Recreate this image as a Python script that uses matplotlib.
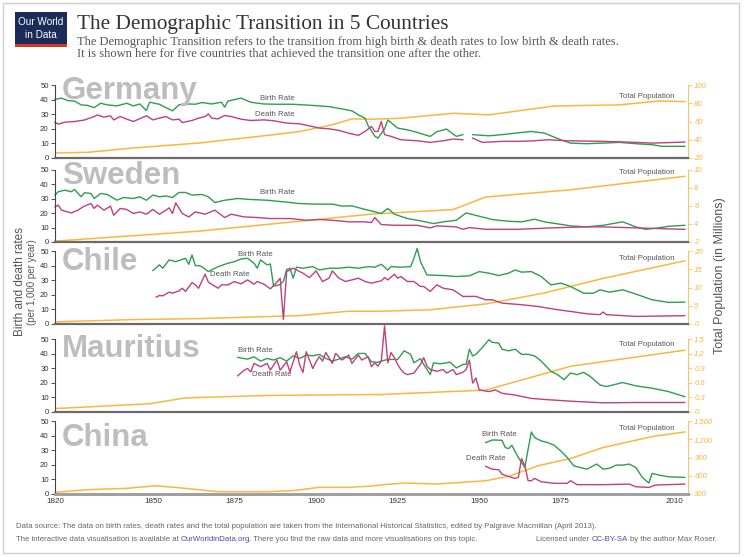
import matplotlib
matplotlib.use('Agg')
import matplotlib.pyplot as plt
import numpy as np
from matplotlib.patches import Rectangle

plt.rcParams['font.family'] = ['Liberation Sans', 'DejaVu Sans']

nan = np.nan

# ---------------- data ----------------
years_xticks = [1820, 1850, 1875, 1900, 1925, 1950, 1975, 2010]

# Germany
de_birth_years = [1820, 1822, 1824, 1826, 1828, 1830, 1832, 1834, 1836, 1839, 1842, 1844, 1846, 1848, 1849, 1852, 1854, 1856, 1858, 1861, 1863, 1865, 1868, 1871, 1872, 1873, 1877, 1880, 1884, 1888, 1893, 1899, 1904, 1908, 1911, 1913, 1915, 1916, 1918, 1919, 1921, 1922, 1925, 1928, 1931, 1935, 1937, 1940, 1943, 1945, 1946, 1948, 1953, 1957, 1961, 1966, 1970, 1975, 1978, 1983, 1988, 1993, 1998, 2003, 2006, 2013]
de_birth = [40.2, 41, 39.3, 39, 36.4, 36, 34.5, 37.5, 36.4, 35.7, 37.5, 35.7, 37, 32.5, 38.2, 36.8, 34.5, 32.3, 36.4, 37, 36.8, 38, 37, 38.2, 34.8, 39, 41, 38.2, 37, 36.8, 36.8, 36, 35.2, 33.6, 32.3, 29.5, 27.3, 22, 15, 13.6, 20, 26, 20.5, 19.3, 17.5, 14.8, 18, 19.8, 14.8, 16, nan, 16, 15.2, 16, 17, 18.2, 17, 12.5, 10.2, 9.8, 10.2, 10.7, 9.8, 9.1, 8, 8]
de_death_years = [1820, 1821, 1823, 1826, 1829, 1832, 1833, 1835, 1837, 1838, 1840, 1842, 1844, 1848, 1850, 1852, 1854, 1856, 1858, 1859, 1862, 1864, 1866, 1867, 1868, 1870, 1872, 1874, 1877, 1880, 1884, 1887, 1891, 1895, 1898, 1901, 1904, 1907, 1910, 1913, 1915, 1917, 1918, 1919, 1920, 1921, 1923, 1926, 1931, 1935, 1939, 1942, 1945, 1946, 1948, 1951, 1957, 1962, 1967, 1971, 1977, 1988, 1998, 2003, 2013]
de_death = [24.5, 23.2, 24.5, 25, 26, 28.4, 29.5, 28, 28.9, 26.1, 28.4, 26.6, 25, 28.9, 26.1, 27.3, 28.4, 26.1, 26.6, 24.3, 25.7, 27.3, 28.4, 30.2, 27.3, 26.8, 29.1, 28.4, 26.6, 25.7, 26.1, 25.5, 23.9, 23.4, 22, 20.5, 20, 18.9, 17, 15.5, 18.2, 21.6, 18.2, 18.2, 25, 16, 14.8, 12.5, 11.8, 10.7, 11.8, 13, 12.5, nan, 13.6, 10.7, 11.4, 11.4, 11.8, 12.5, 11.8, 11.4, 10.7, 10.2, 10.9]
de_pop_years = [1820, 1830, 1844, 1864, 1885, 1895, 1905, 1911, 1917, 1926, 1942, 1953, 1973, 1993, 2005, 2013]
de_pop = [25.5, 26.2, 31, 36.4, 44.7, 49, 56.4, 62.9, 62.5, 63.6, 69, 67.3, 77, 78.2, 82.5, 81.8]

# Sweden
se_birth_years = [1820, 1821, 1823, 1825, 1826, 1828, 1829, 1831, 1832, 1834, 1836, 1839, 1841, 1844, 1846, 1848, 1850, 1852, 1854, 1856, 1858, 1860, 1862, 1865, 1867, 1869, 1872, 1876, 1880, 1885, 1890, 1895, 1900, 1905, 1908, 1911, 1915, 1918, 1920, 1922, 1924, 1928, 1932, 1936, 1939, 1943, 1946, 1950, 1954, 1959, 1963, 1967, 1970, 1978, 1983, 1988, 1994, 1998, 2001, 2005, 2008, 2013]
se_birth = [32.6, 34.9, 36, 34.9, 36.5, 31.4, 34.2, 33.7, 30.2, 33.7, 33, 29, 30.9, 30.2, 31.4, 29, 32.6, 31.4, 32, 30.9, 34.4, 34.4, 32.6, 33, 31.4, 27.4, 29, 30.2, 29.5, 29, 27.9, 26.7, 26.3, 26.3, 24.9, 25.1, 22.6, 21, 19.8, 23.3, 19.3, 16.3, 14.7, 12.8, 14, 15.1, 20.2, 17.9, 15.6, 14.4, 14, 15.8, 14, 11.2, 10.5, 11.6, 14, 10.5, 8.8, 9.8, 10.9, 11.6]
se_death_years = [1820, 1821, 1822, 1825, 1827, 1829, 1831, 1832, 1833, 1835, 1837, 1838, 1840, 1842, 1844, 1846, 1848, 1850, 1852, 1854, 1855, 1856, 1857, 1859, 1861, 1863, 1866, 1869, 1872, 1874, 1878, 1882, 1886, 1892, 1897, 1901, 1905, 1910, 1915, 1917, 1918, 1920, 1924, 1931, 1935, 1937, 1943, 1945, 1947, 1952, 1962, 1972, 1983, 1988, 1998, 2013]
se_death = [24.4, 25.6, 22.1, 20.2, 22.1, 24.9, 26.7, 23.3, 25.6, 22.1, 24.9, 18.6, 23.3, 22.6, 19.8, 20.9, 19.3, 22.6, 19.3, 22.1, 23.7, 19.8, 27.2, 19.8, 17.4, 20.9, 19.3, 22.1, 17, 19.3, 17.4, 17, 16.3, 16.3, 15.1, 15.6, 15.1, 14, 14, 13.5, 17, 12.1, 11.6, 11.6, 9.8, 11.2, 10.5, 8.8, 10, 8.8, 8.8, 9.8, 10.5, 10.5, 9.8, 8.8]
se_pop_years = [1820, 1864, 1917, 1942, 1952, 1978, 2013]
se_pop = [2.1, 3.2, 5.1, 5.6, 7.0, 7.8, 9.3]

# Chile
cl_birth_years = [1850, 1852, 1853, 1855, 1857, 1860, 1861, 1862, 1863, 1864, 1865, 1867, 1870, 1873, 1875, 1877, 1879, 1881, 1882, 1883, 1885, 1886, 1887, 1889, 1890, 1891, 1892, 1893, 1894, 1896, 1899, 1901, 1904, 1907, 1910, 1913, 1916, 1918, 1920, 1922, 1923, 1926, 1929, 1930, 1931, 1932, 1934, 1939, 1943, 1947, 1950, 1953, 1956, 1959, 1961, 1963, 1966, 1969, 1972, 1975, 1978, 1982, 1985, 1987, 1990, 1994, 1998, 2003, 2008, 2013]
cl_birth = [36.6, 40.5, 38.2, 43.9, 42.7, 45, 40.9, 47.3, 40, 40, 39.3, 35.9, 39.3, 41.6, 42.7, 44.5, 45, 41.6, 38.2, 43.9, 40.5, 41.1, 25.9, 27, 29.3, 37.3, 38.2, 31.4, 38.9, 38.2, 39.3, 37, 38.2, 38.2, 38.9, 38.2, 39.3, 38.9, 40.9, 37, 39.3, 38.9, 39.3, 45, 51.8, 42.7, 33.6, 33.2, 32.5, 33, 35.9, 34.8, 33.2, 34.8, 37, 35.5, 35.9, 32.5, 26.8, 28, 25.7, 21.1, 21.1, 23.4, 21.8, 23.4, 20.5, 16.6, 14.8, 15]
cl_death_years = [1851, 1852, 1853, 1855, 1856, 1858, 1859, 1860, 1862, 1863, 1864, 1866, 1867, 1870, 1871, 1873, 1875, 1877, 1879, 1881, 1882, 1884, 1886, 1888, 1889, 1890, 1891, 1893, 1895, 1896, 1898, 1900, 1902, 1904, 1905, 1907, 1909, 1911, 1913, 1915, 1917, 1919, 1920, 1921, 1922, 1924, 1925, 1926, 1928, 1930, 1932, 1933, 1935, 1937, 1939, 1942, 1945, 1949, 1952, 1954, 1957, 1963, 1968, 1974, 1978, 1983, 1987, 1988, 1989, 1998, 2013]
cl_death = [18.4, 19.5, 19.3, 21.8, 21.1, 22.7, 24.5, 22.3, 28.4, 26.8, 24.5, 34.1, 28.6, 24.5, 26.8, 26.8, 29.1, 27.5, 30.2, 27.3, 29.1, 27.3, 24.1, 28.6, 31.4, 3, 35.9, 38.2, 35.9, 34.8, 31.8, 36.4, 29.1, 31.4, 36.4, 31.4, 29.1, 30.2, 31.4, 29.1, 28, 29.1, 29.5, 31.8, 30.2, 34.1, 31.4, 32.5, 29.1, 29.1, 25.7, 25.7, 22.3, 26.8, 24.5, 23.4, 18.9, 18.9, 16.6, 16.6, 14.3, 13.2, 12, 9.8, 8.6, 7, 6.4, 8.2, 6.4, 5.2, 5.7]
cl_pop_years = [1820, 1844, 1865, 1895, 1910, 1920, 1935, 1952, 1970, 1988, 2013]
cl_pop = [0.6, 1.2, 1.5, 2.3, 3.5, 3.5, 3.9, 5.5, 8.5, 12.5, 17.3]

# Mauritius
mu_birth_years = [1876, 1879, 1881, 1883, 1885, 1887, 1889, 1891, 1893, 1895, 1897, 1899, 1901, 1903, 1905, 1907, 1909, 1911, 1913, 1915, 1917, 1919, 1920, 1922, 1925, 1927, 1929, 1930, 1932, 1933, 1935, 1936, 1938, 1940, 1941, 1943, 1945, 1946, 1947, 1948, 1949, 1951, 1953, 1954, 1956, 1957, 1959, 1961, 1963, 1965, 1967, 1969, 1972, 1974, 1976, 1978, 1980, 1982, 1984, 1987, 1989, 1994, 1998, 2003, 2008, 2013]
mu_birth = [37.4, 36.2, 37.8, 34.9, 36.7, 35.6, 37.2, 34.9, 38.5, 36.7, 39, 38.5, 39.4, 36.7, 34.9, 36.2, 37.8, 36.2, 40.1, 40.1, 34.4, 34, 34.9, 36, 36, 41.9, 39.5, 33.7, 36.5, 32.6, 25.6, 33.7, 33, 33.7, 34.2, 30.2, 32.6, 32.6, 43, 38.4, 39.5, 44.2, 49.5, 47.7, 47.2, 43, 41.9, 43, 39.5, 39.5, 38.4, 34.9, 27.9, 25.6, 22.1, 26.7, 25.6, 27.2, 24.4, 18.6, 17.4, 20.2, 17.9, 16.3, 14, 10.5]
mu_death_years = [1876, 1878, 1879, 1880, 1881, 1883, 1885, 1886, 1888, 1889, 1891, 1892, 1894, 1895, 1896, 1897, 1899, 1900, 1901, 1902, 1903, 1905, 1906, 1908, 1910, 1911, 1913, 1914, 1916, 1917, 1918, 1919, 1920, 1921, 1922, 1923, 1924, 1925, 1926, 1927, 1928, 1930, 1932, 1933, 1934, 1935, 1937, 1939, 1940, 1942, 1943, 1945, 1946, 1947, 1948, 1949, 1950, 1953, 1955, 1957, 1961, 1966, 1970, 1978, 1988, 1998, 2013]
mu_death = [24.8, 28.7, 29.8, 27.5, 33.3, 31, 33.3, 28.7, 35.6, 28.7, 34.4, 27.5, 41.3, 32.1, 27.1, 41.3, 29.8, 34.4, 37.8, 34.9, 40.8, 33.3, 40.1, 35.6, 39, 33.3, 39, 35.6, 37.8, 31, 33.7, 31.4, 34.9, 59, 33.7, 40.7, 37.2, 32.6, 29.1, 26.7, 25.6, 26.7, 32.6, 37.2, 31.4, 29.1, 27.9, 29.1, 26.7, 29.1, 25.6, 27.2, 29.1, 35.6, 19.8, 23.3, 15.1, 14, 15.1, 12.8, 11.6, 9.3, 8.6, 7.4, 6.3, 6.5, 6.5]
mu_pop_years = [1820, 1849, 1860, 1885, 1920, 1952, 1978, 2013]
mu_pop = [0.07, 0.17, 0.29, 0.34, 0.36, 0.45, 0.94, 1.27]

# China
cn_birth_years = [1952, 1954, 1957, 1958, 1959, 1960, 1962, 1964, 1965, 1966, 1967, 1969, 1971, 1973, 1975, 1977, 1979, 1983, 1986, 1988, 1990, 1992, 1994, 1996, 1998, 2000, 2002, 2003, 2005, 2008, 2013]
cn_birth = [35.2, 37, 36.8, 31.8, 31.1, 33.4, 25, 18.2, 30.7, 42.5, 38.6, 36.4, 35.2, 33.4, 29.5, 25, 19.3, 17, 20.5, 17, 17.7, 19.8, 19.8, 20.5, 18.2, 11.4, 7.5, 14.1, 13, 11.8, 11.4]
cn_death_years = [1952, 1954, 1956, 1957, 1959, 1961, 1962, 1963, 1964, 1965, 1966, 1967, 1969, 1973, 1977, 1978, 1980, 1988, 1996, 1998, 2002, 2004, 2013]
cn_death = [18.9, 17, 16.6, 13.6, 12, 10.7, 11.4, 24.3, 19.3, 9.1, 9.1, 10.7, 8.4, 7.3, 7.3, 9.1, 6.4, 6.4, 6.8, 5, 4.5, 6.1, 6.8]
cn_pop_years = [1820, 1830, 1842, 1851, 1860, 1870, 1885, 1893, 1901, 1910, 1917, 1921, 1927, 1937, 1952, 1959, 1968, 1978, 1988, 2003, 2013]
cn_pop = [327, 371, 393, 436, 393, 338, 338, 355, 409, 409, 430, 455, 480, 464, 518, 589, 764, 884, 1064, 1244, 1320]

countries = ['Germany', 'Sweden', 'Chile', 'Mauritius', 'China']
pop_tick_values = [[20, 40, 60, 80, 100], [2, 4, 6, 8, 10], [0, 5, 10, 15, 20],
                   [0, 0.3, 0.6, 0.9, 1.2, 1.5], [300, 600, 900, 1200, 1500]]
pop_tick_labels = [['20', '40', '60', '80', '100'], ['2', '4', '6', '8', '10'],
                   ['0', '5', '10', '15', '20'], ['0', '0.3', '0.6', '0.9', '1.2', '1.5'],
                   ['300', '600', '900', '1,200', '1,500']]
series = [
    (de_birth_years, de_birth, de_death_years, de_death, de_pop_years, de_pop),
    (se_birth_years, se_birth, se_death_years, se_death, se_pop_years, se_pop),
    (cl_birth_years, cl_birth, cl_death_years, cl_death, cl_pop_years, cl_pop),
    (mu_birth_years, mu_birth, mu_death_years, mu_death, mu_pop_years, mu_pop),
    (cn_birth_years, cn_birth, cn_death_years, cn_death, cn_pop_years, cn_pop),
]

# ---------------- layout ----------------
W, H = 744, 557
fig = plt.figure(figsize=(W / 100, H / 100), dpi=100)
fig.patch.set_facecolor('white')


def fx(x):
    return x / W


def fy(y):
    return 1 - y / H


BIRTH = '#2f9d4e'
DEATH = '#c0407a'
POP = '#f9b73f'
POP_AX = '#f8c46a'

panel_px = [(85, 158), (170, 242), (251, 324), (339, 412), (421, 494)]
name_baseline = [99, 184, 270, 357, 446]
X0, X1 = 55, 688

for i, (name, (top, bot)) in enumerate(zip(countries, panel_px)):
    by, bv, dy, dv, py, pv = series[i]
    ax = fig.add_axes([fx(X0), fy(bot), (X1 - X0) / W, (bot - top) / H])
    ax2 = ax.twinx()
    ax.set_zorder(ax2.get_zorder() + 1)
    ax.patch.set_visible(False)

    ax.set_xlim(1820, 2014)
    ax.set_ylim(0, 50)
    ax2.set_ylim(pop_tick_values[i][0], pop_tick_values[i][-1])

    ax2.plot(py, pv, color=POP, lw=1.1)
    ax.plot(by, bv, color=BIRTH, lw=1.0, clip_on=False)
    ax.plot(dy, dv, color=DEATH, lw=1.0, clip_on=False)

    for s in ['top', 'right']:
        ax.spines[s].set_visible(False)
    ax.spines['left'].set_color('#444')
    ax.spines['left'].set_linewidth(0.8)
    last = (i == len(countries) - 1)
    ax.spines['bottom'].set_color('#a0a0a0' if last else '#6a6a6a')
    ax.spines['bottom'].set_linewidth(2.2 if last else 1.6)
    for s in ['top', 'left', 'bottom']:
        ax2.spines[s].set_visible(False)
    ax2.spines['right'].set_color(POP_AX)
    ax2.spines['right'].set_linewidth(0.8)

    ax.set_yticks([0, 10, 20, 30, 40, 50])
    ax.tick_params(axis='y', length=3, width=0.6, colors='#333', labelsize=5.6, pad=1.5)
    ax.set_xticks(years_xticks)
    ax.tick_params(axis='x', length=0, labelsize=5.8, colors='#333', pad=3)
    if not last:
        ax.tick_params(axis='x', labelbottom=False)

    ax2.set_yticks(pop_tick_values[i])
    ax2.set_yticklabels(pop_tick_labels[i], fontstyle='italic')
    ax2.tick_params(axis='y', length=3, width=0.6, color=POP_AX, labelcolor=POP,
                    labelsize=5.6, pad=1.5)

    fig.text(fx(62), fy(name_baseline[i]), name, fontsize=22.5, fontweight='bold',
             color='#bdbdbd', va='baseline', ha='left')

# series labels
lab_kw = dict(fontsize=5.6, color='#555', ha='center', va='center')
labels = [
    ('Birth Rate', 277, 98), ('Death Rate', 275, 114), ('Total Population', 647, 96),
    ('Birth Rate', 277, 192), ('Total Population', 647, 173),
    ('Birth Rate', 255, 254), ('Death Rate', 230, 275), ('Total Population', 647, 258),
    ('Birth Rate', 255, 351), ('Death Rate', 272, 375), ('Total Population', 647, 344),
    ('Birth Rate', 499, 434), ('Death Rate', 486, 458), ('Total Population', 647, 428),
]
for txt, x, y in labels:
    fig.text(fx(x), fy(y), txt, **lab_kw)

# axis titles
fig.text(fx(20), fy(282), 'Birth and death rates', rotation=90, ha='center', va='center',
         fontsize=8.5, color='#555')
fig.text(fx(32), fy(282), '(per 1,000 per year)', rotation=90, ha='center', va='center',
         fontsize=7, color='#555')
fig.text(fx(720), fy(276), 'Total Population (in Millions)', rotation=90, ha='center',
         va='center', fontsize=9, color='#555')

# title block
SERIF = ['Liberation Serif', 'DejaVu Serif']
fig.text(fx(77), fy(29), 'The Demographic Transition in 5 Countries', fontsize=15.3,
         family=SERIF, color='#333', va='baseline')
fig.text(fx(77), fy(45), 'The Demographic Transition refers to the transition from high birth & death rates to low birth & death rates.',
         fontsize=9.0, family=SERIF, color='#555', va='baseline')
fig.text(fx(77), fy(57), 'It is shown here for five countries that achieved the transition one after the other.',
         fontsize=9.0, family=SERIF, color='#555', va='baseline')

# logo
fig.patches.append(Rectangle((fx(15), fy(47)), 52 / W, 35 / H, transform=fig.transFigure,
                             facecolor='#1a2c57', edgecolor='none'))
fig.patches.append(Rectangle((fx(15), fy(47)), 52 / W, 3 / H, transform=fig.transFigure,
                             facecolor='#d7361f', edgecolor='none'))
fig.text(fx(41), fy(22), 'Our World', fontsize=7.2, color='white', ha='center', va='center')
fig.text(fx(41), fy(35), 'in Data', fontsize=7.2, color='white', ha='center', va='center')

# frame
fig.patches.append(Rectangle((fx(3), fy(553)), (739 - 3) / W, (553 - 3) / H,
                             transform=fig.transFigure, fill=False, edgecolor='#cfcfcf', lw=1))

# footer
renderer = fig.canvas.get_renderer()
FOOT = dict(fontsize=5.55, va='baseline')
GREY = '#666'
BLUE = '#4a4ab0'


def ink_w(s):
    t = fig.text(0, 0, s, **FOOT)
    w = t.get_window_extent(renderer=renderer).width
    t.remove()
    return w


SPACE = ink_w('a a') - ink_w('aa')


def parts_text(x, y, parts):
    # parts: (text, colour, add_space_after)
    for s, c, sp in parts:
        fig.text(fx(x), fy(y), s, color=c, **FOOT)
        x += ink_w(s) + (SPACE if sp else -1.5)


fig.text(fx(16), fy(528), 'Data source: The data on birth rates, death rates and the total population are taken from the International Historical Statistics, edited by Palgrave Macmillan (April 2013).',
         color=GREY, **FOOT)
parts_text(16, 541, [('The interactive data visualisation is available at', GREY, True),
                     ('OurWorldinData.org', BLUE, False),
                     ('. There you find the raw data and more visualisations on this topic.', GREY, False)])
lic_parts = [('Licensed under', GREY, True), ('CC-BY-SA', BLUE, True),
             ('by the author Max Roser.', GREY, False)]
total = sum(ink_w(s) + (SPACE if sp else 0) for s, c, sp in lic_parts)
parts_text(717 - total, 541, lic_parts)

fig.savefig('out.png', dpi=100, facecolor='white')
